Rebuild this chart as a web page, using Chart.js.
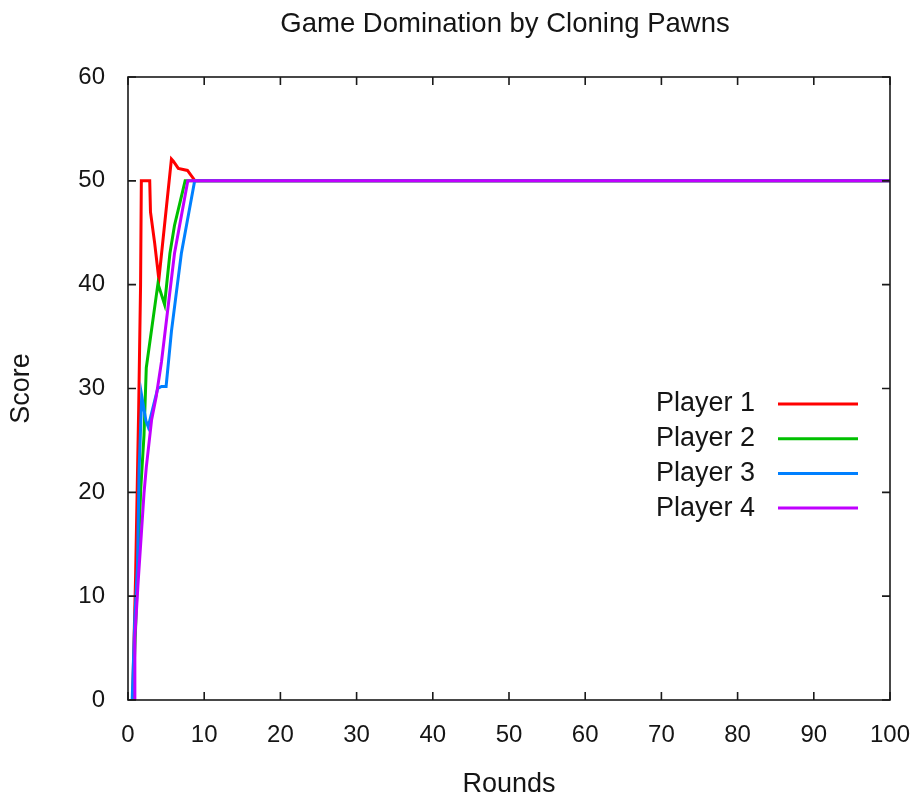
<!DOCTYPE html>
<html>
<head>
<meta charset="utf-8">
<title>Game Domination by Cloning Pawns</title>
<script src="https://cdn.jsdelivr.net/npm/chart.js@4.4.0/dist/chart.umd.min.js"></script>
<style>
  html, body { margin: 0; padding: 0; background: #ffffff; }
  canvas { display: block; }
</style>
</head>
<body>
<canvas id="chart" width="920" height="805"></canvas>
<script>
// Score per player against the round number (fractional rounds = turns within a round)
const player1Rounds = [0.6, 1.0, 1.4, 1.65, 1.75, 2.85, 2.95, 3.5, 4.05, 5.7, 5.95, 6.6, 7.8, 8.8, 100];
const player1Scores = [0, 12, 28, 40, 50, 50, 47, 44, 40.5, 52.1, 51.9, 51.2, 51, 50, 50];

const player2Rounds = [0.65, 1.4, 1.67, 2.1, 2.4, 3.93, 4.8, 5.5, 6.1, 7.5, 100];
const player2Scores = [0, 15, 20.3, 25.5, 32, 40.1, 38.1, 43, 45.7, 50, 50];

const player3Rounds = [0.55, 0.9, 1.25, 1.45, 1.8, 2.35, 2.65, 3.9, 4.4, 5.0, 5.7, 7.0, 8.75, 100];
const player3Scores = [0, 8, 13, 22, 29.3, 26.9, 26.3, 30, 30.2, 30.2, 35.5, 43, 50, 50];

const player4Rounds = [0.85, 0.9, 1.3, 1.75, 2.1, 2.4, 3.1, 3.7, 4.4, 6.1, 7.85, 100];
const player4Scores = [0, 6, 11, 16, 19.9, 22.4, 27, 29.2, 32.6, 43, 50, 50];

const playerNames = ['Player 1', 'Player 2', 'Player 3', 'Player 4'];
const playerColors = ['#ff0000', '#00c000', '#0080ff', '#c000ff'];

const roundTicks = [0, 10, 20, 30, 40, 50, 60, 70, 80, 90, 100];
const scoreTicks = [0, 10, 20, 30, 40, 50, 60];

const chartTitle = 'Game Domination by Cloning Pawns';

const FONT = '"Liberation Sans", Arial, Helvetica, sans-serif';
const INK = '#151515';

function points(rounds, scores) {
  return rounds.map((r, i) => ({ x: r, y: scores[i] }));
}

const series = [
  points(player1Rounds, player1Scores),
  points(player2Rounds, player2Scores),
  points(player3Rounds, player3Scores),
  points(player4Rounds, player4Scores)
];

// Title centred (approximately) over the plot box
const plotTitle = {
  id: 'plotTitle',
  afterDraw(chart) {
    const { ctx, chartArea: a } = chart;
    ctx.save();
    ctx.font = '27.5px ' + FONT;
    ctx.fillStyle = INK;
    ctx.textAlign = 'center';
    ctx.textBaseline = 'middle';
    ctx.fillText(chartTitle, (a.left + a.right) / 2 - 4, 24);
    ctx.restore();
  }
};

// Closed frame with inward tick marks on all four sides
const frameTicks = {
  id: 'frameTicks',
  afterDatasetsDraw(chart) {
    const { ctx, chartArea: a, scales: { x, y } } = chart;
    const len = 8;
    ctx.save();
    ctx.strokeStyle = '#1a1a1a';
    ctx.lineWidth = 1.6;
    ctx.beginPath();
    roundTicks.forEach(v => {
      const px = x.getPixelForValue(v);
      ctx.moveTo(px, a.bottom); ctx.lineTo(px, a.bottom - len);
      ctx.moveTo(px, a.top); ctx.lineTo(px, a.top + len);
    });
    scoreTicks.forEach(v => {
      const py = y.getPixelForValue(v);
      ctx.moveTo(a.left, py); ctx.lineTo(a.left + len, py);
      ctx.moveTo(a.right, py); ctx.lineTo(a.right - len, py);
    });
    ctx.stroke();
    ctx.strokeRect(a.left, a.top, a.right - a.left, a.bottom - a.top);
    ctx.restore();
  }
};

// Key inside the plot: right-aligned names followed by a line sample
const sideKey = {
  id: 'sideKey',
  afterDraw(chart) {
    const { ctx, chartArea: a } = chart;
    ctx.save();
    ctx.font = '27px ' + FONT;
    ctx.textAlign = 'right';
    ctx.textBaseline = 'middle';
    chart.data.datasets.forEach((ds, i) => {
      const yy = a.top + 327 + i * 34.7;
      ctx.fillStyle = INK;
      ctx.fillText(ds.label, a.right - 135, yy);
      ctx.strokeStyle = ds.borderColor;
      ctx.lineWidth = 3;
      ctx.beginPath();
      ctx.moveTo(a.right - 112, yy);
      ctx.lineTo(a.right - 32, yy);
      ctx.stroke();
    });
    ctx.restore();
  }
};

Chart.defaults.font.family = FONT;
Chart.defaults.color = INK;

new Chart(document.getElementById('chart'), {
  type: 'line',
  data: {
    datasets: series.map((data, i) => ({
      label: playerNames[i],
      data: data,
      borderColor: playerColors[i],
      backgroundColor: playerColors[i],
      borderWidth: 3,
      pointRadius: 0,
      tension: 0,
      fill: false,
      order: series.length - i
    }))
  },
  options: {
    responsive: false,
    animation: false,
    events: [],
    layout: { padding: { left: 0, right: 30, top: 77, bottom: 0 } },
    plugins: {
      legend: { display: false },
      tooltip: { enabled: false },
      title: { display: false }
    },
    scales: {
      x: {
        type: 'linear',
        min: 0,
        max: 100,
        afterFit(scale) {
          scale.height = 105;
          scale.paddingLeft = 0;
          scale.paddingRight = 0;
        },
        afterBuildTicks(scale) { scale.ticks = roundTicks.map(v => ({ value: v })); },
        grid: { display: false, drawTicks: false },
        border: { display: false },
        ticks: { font: { size: 24 }, color: INK, padding: 21, maxRotation: 0 },
        title: {
          display: true,
          text: 'Rounds',
          color: INK,
          font: { size: 27 },
          padding: { top: 0, bottom: 3.8 }
        }
      },
      y: {
        type: 'linear',
        min: 0,
        max: 60,
        afterFit(scale) {
          scale.width = 128;
          scale.paddingTop = 0;
          scale.paddingBottom = 0;
        },
        afterBuildTicks(scale) { scale.ticks = scoreTicks.map(v => ({ value: v })); },
        grid: { display: false, drawTicks: false },
        border: { display: false },
        ticks: { font: { size: 24 }, color: INK, padding: 23 },
        title: {
          display: true,
          text: 'Score',
          color: INK,
          font: { size: 27 },
          padding: { top: 5.8, bottom: 0 }
        }
      }
    }
  },
  plugins: [plotTitle, frameTicks, sideKey]
});
</script>
</body>
</html>
